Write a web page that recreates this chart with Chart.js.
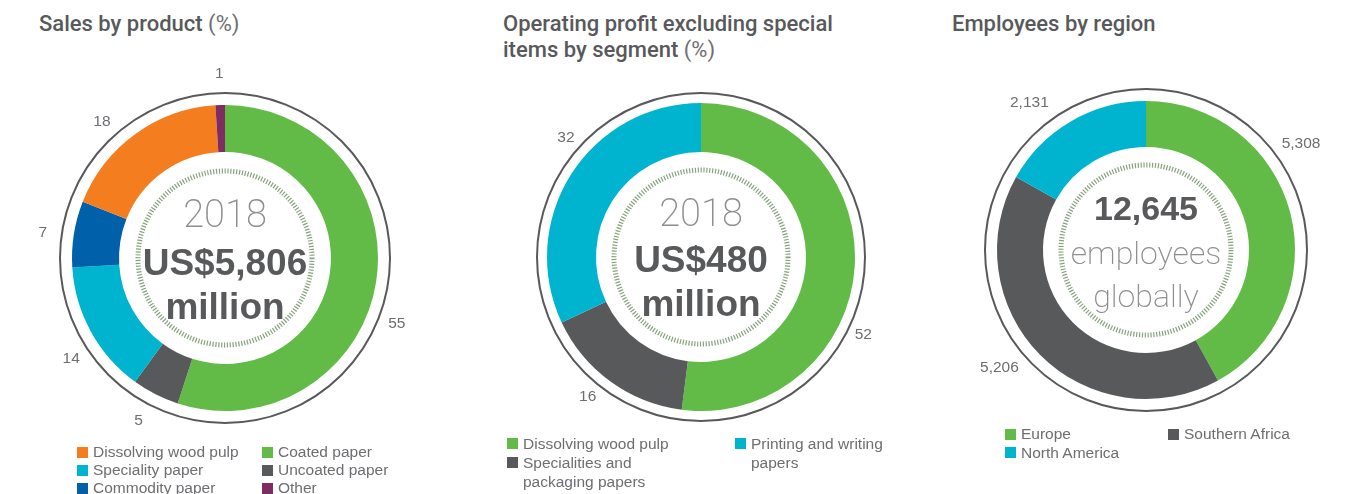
<!DOCTYPE html>
<html><head><meta charset="utf-8">
<script src="https://cdn.jsdelivr.net/npm/chart.js@4.4.0/dist/chart.umd.min.js"></script>
<style>
html,body{margin:0;padding:0;background:#fff;}
#root{position:relative;width:1370px;height:494px;overflow:hidden;font-family:"Liberation Sans",Arial,sans-serif;}
canvas{position:absolute;}
.title{position:absolute;font-family:Roboto,"Liberation Sans",sans-serif;font-weight:500;font-size:22px;line-height:26px;color:#58595b;white-space:nowrap;}
.title span{font-weight:400;color:#6d6e71;}
.ctext{position:absolute;width:320px;text-align:center;white-space:nowrap;line-height:1;}
.legend{position:absolute;display:flex;font-family:"Liberation Sans",Arial,sans-serif;font-size:15.5px;color:#6d6e71;}
.col{display:flex;flex-direction:column;}
.item{display:flex;align-items:flex-start;}
.sw{width:11px;height:11px;flex:none;margin-right:5px;}
</style></head>
<body><div id="root"></div>
<script>
// ---------- data ----------
const salesLabels = ['Coated paper','Uncoated paper','Speciality paper','Commodity paper','Dissolving wood pulp','Other'];
const salesValues = [55, 5, 14, 7, 18, 1];
const salesColors = ['#62bb46','#58595b','#00b4d0','#0060a9','#f47d20','#7e2c62'];
const salesLegendCols = [[4,2,3],[0,1,5]];

const profitLabels = ['Dissolving wood pulp','Specialities and packaging papers','Printing and writing papers'];
const profitValues = [52, 16, 32];
const profitColors = ['#62bb46','#58595b','#00b4d0'];
const profitLegendCols = [[0,1],[2]];

const employeeLabels = ['Europe','Southern Africa','North America'];
const employeeValues = [5308, 5206, 2131];
const employeeColors = ['#62bb46','#58595b','#00b4d0'];
const employeeLegendCols = [[0,2],[1]];

const salesTotal = 'US$5,806';
const profitTotal = 'US$480';
const yearLabel = '2018';

// ---------- layout ----------
const root = document.getElementById('root');
const fmtInt = v => v.toLocaleString('en-US');

const panels = [
  {title:'Sales by product', unit:'(%)', titleX:39, labels:salesLabels, values:salesValues, colors:salesColors, cols:salesLegendCols,
   cx:225, cy:258, outer:153, inner:106, ring:165, dots:87, labelR:184, nudge:[12,1,-4.5,-1,-6,0], fmt:String,
   legend:{x:77, y:443, colW:185, lh:18, textW:175},
   center:[{t:yearLabel, fam:'Roboto', w:200, fs:38, c:'#8d8e90', base:-31},
           {t:salesTotal, fam:'Liberation Sans', w:700, fs:37, c:'#58595b', base:17},
           {t:'million', fam:'Liberation Sans', w:700, fs:37, c:'#58595b', base:61}]},
  {title:'Operating profit excluding special<br>items by segment', unit:'(%)', titleX:503, labels:profitLabels, values:profitValues, colors:profitColors, cols:profitLegendCols,
   cx:701, cy:257, outer:154, inner:105, ring:164, dots:87, labelR:180, nudge:[22,3,9], fmt:String,
   legend:{x:507, y:434, colW:228, lh:19, textW:160},
   center:[{t:yearLabel, fam:'Roboto', w:200, fs:38, c:'#8d8e90', base:-31},
           {t:profitTotal, fam:'Liberation Sans', w:700, fs:37, c:'#58595b', base:15},
           {t:'million', fam:'Liberation Sans', w:700, fs:37, c:'#58595b', base:59}]},
  {title:'Employees by region', unit:'', titleX:952, labels:employeeLabels, values:employeeValues, colors:employeeColors, cols:employeeLegendCols,
   cx:1146, cy:250, outer:149, inner:103, ring:161, dots:85, labelR:188, nudge:[-20,6,-8], fmt:fmtInt,
   legend:{x:1005, y:425, colW:163, lh:18.5, textW:155},
   center:[{t:fmtInt(employeeValues.reduce((a,b)=>a+b,0)), fam:'Liberation Sans', w:700, fs:34, c:'#58595b', base:-30},
           {t:'employees', fam:'Roboto', w:200, fs:32, c:'#8d8e90', base:14},
           {t:'globally', fam:'Roboto', w:200, fs:32, c:'#8d8e90', base:57}]}
];

const decor = {
  id:'decor',
  beforeDatasetsDraw(chart, args, o){
    const a = chart.getDatasetMeta(0).data[0];
    const ctx = chart.ctx;
    ctx.save();
    ctx.beginPath(); ctx.arc(a.x, a.y, o.ring, 0, Math.PI*2);
    ctx.lineWidth = 2; ctx.strokeStyle = '#58595b'; ctx.stroke();
    ctx.beginPath(); ctx.arc(a.x, a.y, o.dots, 0, Math.PI*2);
    ctx.lineWidth = 5; ctx.setLineDash([1.2, 1.7]); ctx.strokeStyle = '#86a17c'; ctx.stroke();
    ctx.restore();
  },
  afterDatasetsDraw(chart, args, o){
    const ctx = chart.ctx;
    const vals = chart.data.datasets[0].data;
    ctx.save();
    ctx.font = '15.5px "Liberation Sans", Arial, sans-serif';
    ctx.fillStyle = '#6d6e71';
    ctx.textAlign = 'center'; ctx.textBaseline = 'middle';
    chart.getDatasetMeta(0).data.forEach((el, i) => {
      const mid = (el.startAngle + el.endAngle) / 2 + (o.nudge[i] || 0) * Math.PI / 180;
      ctx.fillText(o.fmt(vals[i]), el.x + Math.cos(mid)*o.labelR, el.y + Math.sin(mid)*o.labelR);
    });
    ctx.restore();
  }
};

const S = 240;
panels.forEach(p => {
  const t = document.createElement('div');
  t.className = 'title';
  t.style.left = p.titleX + 'px'; t.style.top = '11px';
  t.innerHTML = p.title + (p.unit ? ' <span>' + p.unit + '</span>' : '');
  root.appendChild(t);

  const cv = document.createElement('canvas');
  cv.width = 2*S; cv.height = 2*S;
  cv.style.left = (p.cx - S) + 'px'; cv.style.top = (p.cy - S) + 'px';
  cv.style.width = 2*S + 'px'; cv.style.height = 2*S + 'px';
  root.appendChild(cv);
  new Chart(cv, {
    type:'doughnut',
    data:{labels:p.labels, datasets:[{data:p.values, backgroundColor:p.colors, borderWidth:0}]},
    options:{responsive:false, animation:false, events:[], devicePixelRatio:1,
      radius:p.outer, cutout:(p.inner/p.outer*100)+'%',
      layout:{padding:0},
      plugins:{legend:{display:false}, tooltip:{enabled:false},
        decor:{ring:p.ring, dots:p.dots, labelR:p.labelR, nudge:p.nudge, fmt:p.fmt}}},
    plugins:[decor]
  });

  p.center.forEach(c => {
    const d = document.createElement('div');
    d.className = 'ctext';
    d.textContent = c.t;
    d.style.fontFamily = '"' + c.fam + '", sans-serif';
    d.style.fontWeight = c.w; d.style.fontSize = c.fs + 'px'; d.style.color = c.c;
    d.style.left = (p.cx - 160) + 'px';
    d.style.top = (p.cy + c.base - 0.845*c.fs) + 'px';
    root.appendChild(d);
  });

  const lg = document.createElement('div');
  lg.className = 'legend';
  lg.style.left = p.legend.x + 'px'; lg.style.top = p.legend.y + 'px';
  p.cols.forEach(col => {
    const cd = document.createElement('div');
    cd.className = 'col'; cd.style.width = p.legend.colW + 'px';
    col.forEach(i => {
      const it = document.createElement('div');
      it.className = 'item'; it.style.lineHeight = p.legend.lh + 'px';
      const sw = document.createElement('div');
      sw.className = 'sw'; sw.style.background = p.colors[i];
      sw.style.marginTop = ((p.legend.lh - 11)/2) + 'px';
      const tx = document.createElement('div');
      tx.textContent = p.labels[i]; tx.style.maxWidth = p.legend.textW + 'px';
      it.appendChild(sw); it.appendChild(tx);
      cd.appendChild(it);
    });
    lg.appendChild(cd);
  });
  root.appendChild(lg);
});
</script>
</body></html>
